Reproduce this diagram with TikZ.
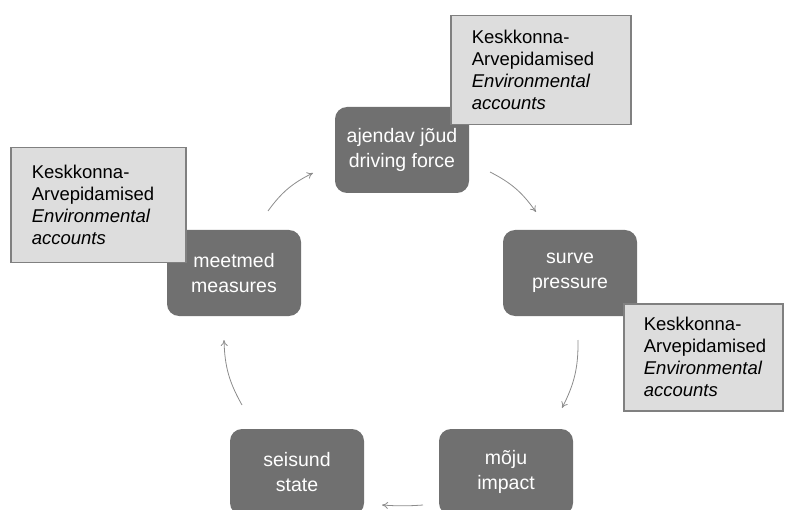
\documentclass[tikz,border=0pt]{standalone}
\usepackage{fontspec}
\setmainfont{Liberation Sans}
\usetikzlibrary{arrows.meta}
\definecolor{boxgray}{HTML}{707070}
\definecolor{notefill}{HTML}{DDDDDD}
\definecolor{noteline}{HTML}{808080}
\definecolor{arrowgray}{HTML}{8C8C8C}
\tikzset{
  stagebox/.style={draw=none, fill=boxgray, rounded corners=12pt, text=white,
    minimum width=134pt, minimum height=86pt, align=center, inner sep=0pt,
    font=\fontsize{19.5}{25}\selectfont},
  notebox/.style={draw=noteline, line width=1.5pt, fill=notefill, text=black,
    align=left, inner xsep=21pt, inner ysep=0pt, anchor=north west,
    font=\fontsize{18.5}{22}\selectfont},
  cyclearrow/.style={draw=arrowgray, line width=0.8pt, bend left=14,
    -{To[length=6pt,width=7pt]}}
}
\begin{document}
\begin{tikzpicture}[x=1pt,y=-1pt]
\useasboundingbox (0,0) rectangle (786,510);
% stage boxes
\node[stagebox] (drive) at (402,150) {ajendav jõud\\driving force};
\node[stagebox] (press) at (570,273) {surve\\pressure};
\node[stagebox] (meas) at (234,273) {meetmed\\measures};
\node[stagebox] (state) at (297,472) {seisund\\state};
\node[stagebox] (impact) at (506,472) {mõju\\impact};
% note boxes
\node[notebox, minimum width=180pt, minimum height=109pt, text width=138pt] (note1) at (450,15)
  {Keskkonna-\\Arvepidamised\\\textit{Environmental}\\\textit{accounts}};
\node[notebox, minimum width=175pt, minimum height=115pt, text width=133pt] (note2) at (10,147)
  {Keskkonna-\\Arvepidamised\\\textit{Environmental}\\\textit{accounts}};
\node[notebox, minimum width=159pt, minimum height=107pt, text width=119pt, inner xsep=20pt] (note3) at (623,303)
  {Keskkonna-\\Arvepidamised\\\textit{Environmental}\\\textit{accounts}};
% arrow end points
\coordinate (a1s) at (268,211); \coordinate (a1e) at (313,173);
\coordinate (a2s) at (490,172); \coordinate (a2e) at (536,212);
\coordinate (a3s) at (578,340); \coordinate (a3e) at (562,408);
\coordinate (a4s) at (423,505); \coordinate (a4e) at (382,505);
\coordinate (a5s) at (242,405); \coordinate (a5e) at (224,340);
\draw[cyclearrow] (a1s) to (a1e);
\draw[cyclearrow] (a2s) to (a2e);
\draw[cyclearrow] (a3s) to (a3e);
\draw[cyclearrow, bend left=4] (a4s) to (a4e);
\draw[cyclearrow] (a5s) to (a5e);
\end{tikzpicture}
\end{document}
